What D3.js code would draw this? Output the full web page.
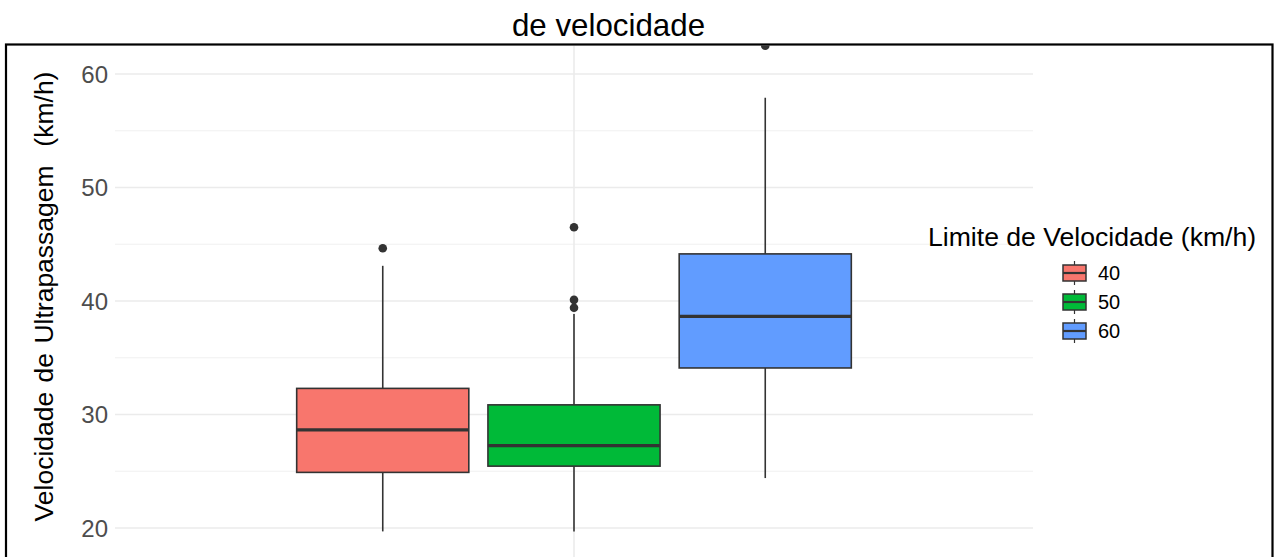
<!DOCTYPE html>
<html><head><meta charset="utf-8">
<script src="https://cdn.jsdelivr.net/npm/d3@7"></script>
<style>
html,body{margin:0;padding:0;background:#fff;overflow:hidden;}
text{font-family:"Liberation Sans",Arial,sans-serif;}
</style></head>
<body>
<svg id="chart" width="1279" height="557"></svg>
<script>
const categories = ["40","50","60"];
const colors = ["#F8766D","#00BA38","#619CFF"];
const whiskerLow = [19.7, 19.7, 24.4];
const q1 = [24.9, 25.45, 34.1];
const median = [28.65, 27.25, 38.65];
const q3 = [32.3, 30.85, 44.15];
const whiskerHigh = [43.1, 38.85, 57.9];
const outliers = [[44.65],[46.5, 40.1, 39.4],[62.5]];
const yTicks = [20,30,40,50,60];
const yMinor = [25,35,45,55];
const titleText = "de velocidade";
const yLabel = "Velocidade de Ultrapassagem  (km/h)";
const legendTitle = "Limite de Velocidade (km/h)";

const svg = d3.select("#chart");
const panel = {left:115, right:1033, top:45.5, bottom:557};
svg.append("defs").append("clipPath").attr("id","pclip").append("rect")
  .attr("x",panel.left).attr("y",panel.top).attr("width",panel.right-panel.left).attr("height",panel.bottom-panel.top);
const y = d3.scaleLinear().domain([20,60]).range([528,74]);
const xOuter = d3.scaleLinear().domain([0.4,1.6]).range([panel.left, panel.right]);
const center = xOuter(1), unit = xOuter(1)-xOuter(0);
const xInner = d3.scaleBand().domain(categories)
  .range([center-0.375*unit, center+0.375*unit]).paddingInner(0.1).paddingOuter(0.05);

const g = svg.append("g").attr("clip-path","url(#pclip)");
g.selectAll(".minor").data(yMinor).join("line")
  .attr("x1",panel.left).attr("x2",panel.right)
  .attr("y1",d=>y(d)).attr("y2",d=>y(d))
  .attr("stroke","#f0f0f0").attr("stroke-width",1.2);
g.selectAll(".major").data(yTicks).join("line")
  .attr("x1",panel.left).attr("x2",panel.right)
  .attr("y1",d=>y(d)).attr("y2",d=>y(d))
  .attr("stroke","#ebebeb").attr("stroke-width",1.6);
g.append("line").attr("x1",center).attr("x2",center)
  .attr("y1",panel.top).attr("y2",panel.bottom)
  .attr("stroke","#ebebeb").attr("stroke-width",1.6);

// y tick labels
svg.selectAll(".tl").data(yTicks).join("text")
  .attr("x",108).attr("y",d=>y(d)).attr("dy","0.36em")
  .attr("text-anchor","end").attr("font-size",24).attr("fill","#4d4d4d")
  .text(d=>d);

// boxes
categories.forEach((c,i)=>{
  const x0 = xInner(c), w = xInner.bandwidth(), xc = x0 + w/2;
  const bg = g.append("g");
  bg.append("line").attr("x1",xc).attr("x2",xc).attr("y1",y(q3[i])).attr("y2",y(whiskerHigh[i]))
    .attr("stroke","#333").attr("stroke-width",1.6);
  bg.append("line").attr("x1",xc).attr("x2",xc).attr("y1",y(q1[i])).attr("y2",y(whiskerLow[i]))
    .attr("stroke","#333").attr("stroke-width",1.6);
  bg.append("rect").attr("x",x0).attr("width",w).attr("y",y(q3[i])).attr("height",y(q1[i])-y(q3[i]))
    .attr("fill",colors[i]).attr("stroke","#333").attr("stroke-width",1.6);
  bg.append("line").attr("x1",x0).attr("x2",x0+w).attr("y1",y(median[i])).attr("y2",y(median[i]))
    .attr("stroke","#333").attr("stroke-width",3.2);
  bg.selectAll("circle").data(outliers[i]).join("circle")
    .attr("cx",xc).attr("cy",d=>y(d)).attr("r",4.3).attr("fill","#333");
});

// title
svg.append("text").attr("x",608.5).attr("y",36).attr("text-anchor","middle")
  .attr("font-size",31.3).attr("fill","#000").text(titleText);

// y label
svg.append("text").attr("transform","translate(53,296.5) rotate(-90)")
  .attr("text-anchor","middle").attr("font-size",26.5).attr("fill","#000")
  .attr("word-spacing",2)
  .style("white-space","pre").text(yLabel);

// legend
svg.append("text").attr("x",928).attr("y",246).attr("font-size",26.6).attr("fill","#000").text(legendTitle);
const lg = svg.append("g");
categories.forEach((c,i)=>{
  const cy = 273 + i*29, kx = 1063, kw = 23, kh = 16, xc = kx + kw/2;
  lg.append("line").attr("x1",xc).attr("x2",xc).attr("y1",cy-12).attr("y2",cy+12)
    .attr("stroke","#333").attr("stroke-width",1.2);
  lg.append("rect").attr("x",kx).attr("y",cy-kh/2).attr("width",kw).attr("height",kh)
    .attr("fill",colors[i]).attr("stroke","#333").attr("stroke-width",1.5);
  lg.append("line").attr("x1",kx).attr("x2",kx+kw).attr("y1",cy).attr("y2",cy)
    .attr("stroke","#333").attr("stroke-width",2.2);
  lg.append("text").attr("x",1098).attr("y",cy).attr("dy","0.36em").attr("font-size",20)
    .attr("fill","#000").text(c);
});

// frame
svg.append("rect").attr("x",6).attr("y",44.5).attr("width",1266.5).attr("height",560)
  .attr("fill","none").attr("stroke","#000").attr("stroke-width",2.2);
</script>
</body></html>
